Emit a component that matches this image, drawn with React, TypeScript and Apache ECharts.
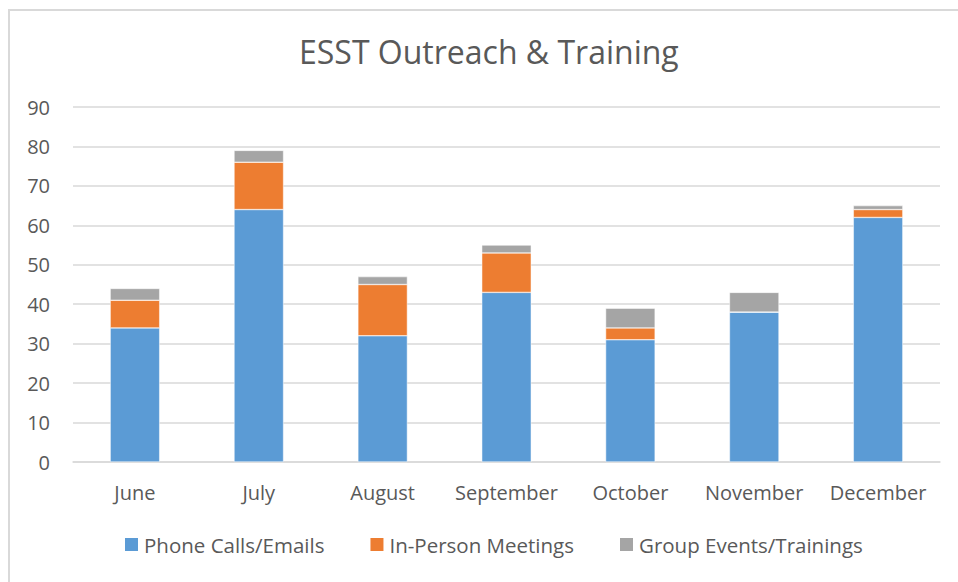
import React, { useEffect, useRef } from "react";
import * as echarts from "echarts";

const categories = ["June", "July", "August", "September", "October", "November", "December"];
const phoneCalls = [34, 64, 32, 43, 31, 38, 62];
const inPerson = [7, 12, 13, 10, 3, 0, 2];
const groupEvents = [3, 3, 2, 2, 5, 5, 1];
const seriesNames = ["Phone Calls/Emails", "In-Person Meetings", "Group Events/Trainings"];
const colors = ["#5b9bd5", "#ed7d31", "#a5a5a5"];

export default function App() {
  const ref = useRef<HTMLDivElement>(null);
  useEffect(() => {
    if (!ref.current) return;
    const chart = echarts.init(ref.current, null, { renderer: "svg" });
    const font = "'Open Sans', Lato, sans-serif";
    const data = [phoneCalls, inPerson, groupEvents];
    chart.setOption({
      animation: false,
      backgroundColor: "transparent",
      textStyle: { fontFamily: font },
      title: {
        text: "ESST Outreach & Training",
        left: 294,
        top: 30,
        textStyle: { color: "#595959", fontSize: 32, fontWeight: "normal", fontFamily: font },
      },
      legend: {
        bottom: 22,
        left: 118,
        itemWidth: 15,
        itemHeight: 15,
        itemGap: 44,
        icon: "rect",
        textStyle: { color: "#595959", fontSize: 20.5, fontFamily: font },
        data: seriesNames,
      },
      grid: { left: 73, right: 18, top: 107, bottom: 120, containLabel: false },
      xAxis: {
        type: "category",
        data: categories,
        axisLine: { lineStyle: { color: "#d9d9d9", width: 1.5 } },
        axisTick: { show: false },
        axisLabel: { color: "#595959", fontSize: 20, margin: 20, fontFamily: font, interval: 0 },
      },
      yAxis: {
        type: "value",
        min: 0,
        max: 90,
        interval: 10,
        axisLine: { show: false },
        axisTick: { show: false },
        splitLine: { lineStyle: { color: "#d9d9d9", width: 1.5 } },
        axisLabel: { color: "#595959", fontSize: 20, margin: 23, fontFamily: font, align: "right" },
      },
      series: seriesNames.map((name, i) => ({
        name,
        type: "bar",
        stack: "total",
        barWidth: "40%",
        data: data[i],
        itemStyle: { color: colors[i], borderColor: "#ffffff", borderWidth: 0.5 },
      })),
    });
    return () => chart.dispose();
  }, []);
  return (
    <div
      style={{
        position: "fixed",
        left: 0,
        top: 0,
        width: 958,
        height: 582,
        overflow: "hidden",
        background: "#fff",
      }}
    >
      <div
        style={{
          position: "absolute",
          left: 8,
          top: 9,
          width: 1000,
          height: 1000,
          borderLeft: "2px solid #d9d9d9",
          borderTop: "2px solid #d9d9d9",
        }}
      />
      <div ref={ref} style={{ position: "absolute", left: 0, top: 0, width: 958, height: 582 }} />
    </div>
  );
}
